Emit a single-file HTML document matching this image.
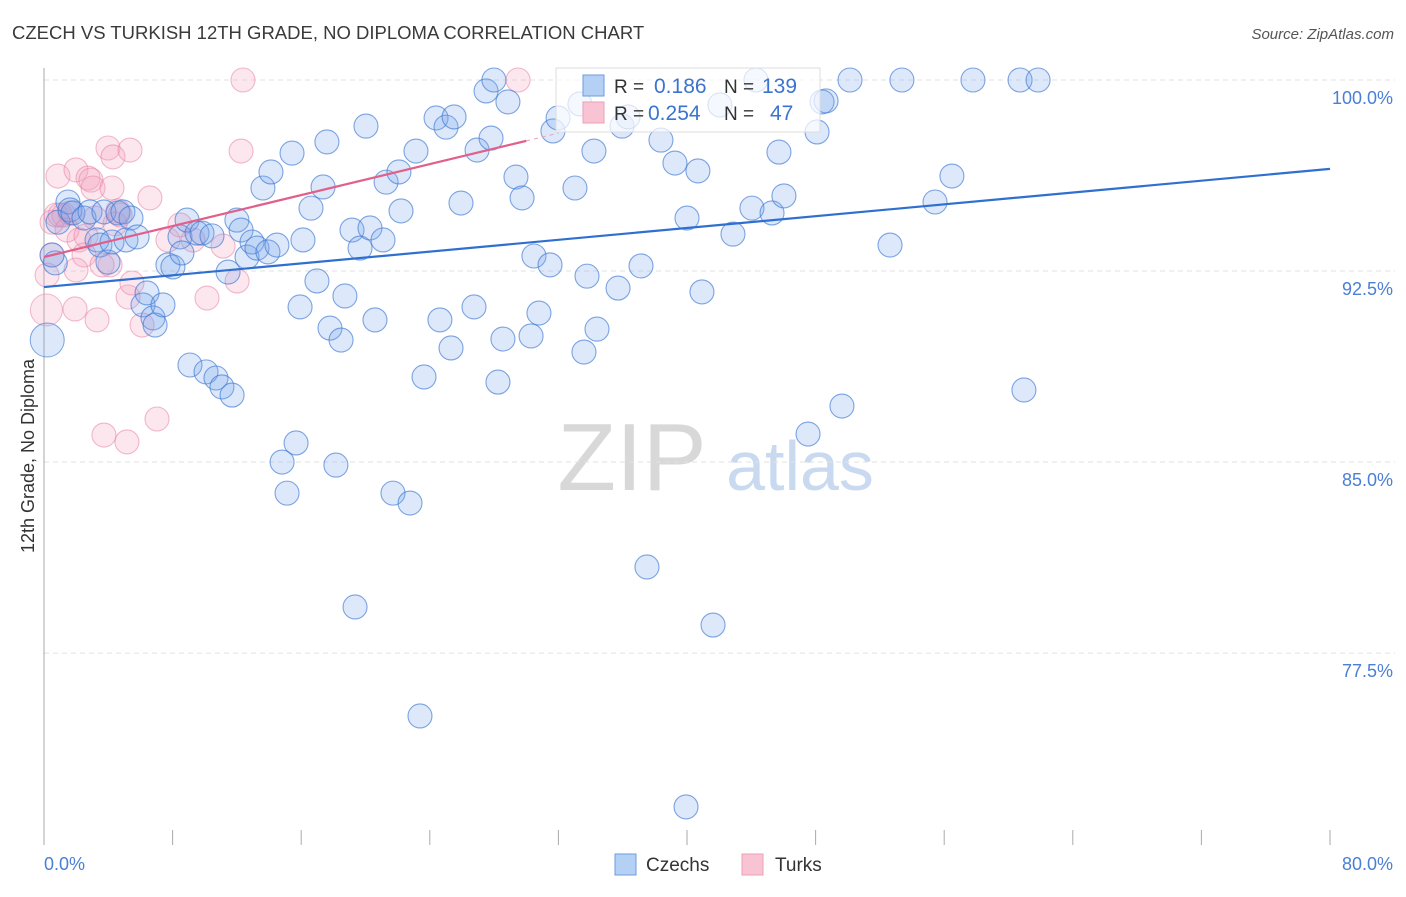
<!DOCTYPE html>
<html><head><meta charset="utf-8"><style>
body{margin:0;background:#fff;font-family:"Liberation Sans",sans-serif;}
svg text{font-family:"Liberation Sans",sans-serif;}
</style></head><body>
<svg id="chart" width="1406" height="892" viewBox="0 0 1406 892" xmlns="http://www.w3.org/2000/svg">
<text x="12" y="39" font-size="18.5" fill="#3a3a3a">CZECH VS TURKISH 12TH GRADE, NO DIPLOMA CORRELATION CHART</text>
<text x="1394" y="39" font-size="15" fill="#555" text-anchor="end" font-style="italic">Source: ZipAtlas.com</text>
<g>
<text x="632" y="490" font-size="96" fill="#d8d8d8" font-family="Liberation Serif" text-anchor="middle">ZIP</text>
<text x="800" y="490" font-size="70" fill="#c8d9f0" text-anchor="middle">atlas</text>
</g>
<g id="grid"></g>
<g id="axes"></g>
<g id="marks"></g>
<text transform="translate(34,456) rotate(-90)" font-size="18" fill="#333" text-anchor="middle">12th Grade, No Diploma</text>
<text x="44" y="870" font-size="18" fill="#4a7fd4">0.0%</text>
<text x="1393" y="870" font-size="18" fill="#4a7fd4" text-anchor="end">80.0%</text>
<g>
<rect x="556" y="68" width="264" height="64" fill="#fff" fill-opacity="0.7" stroke="#ddd"/>
<rect x="583" y="75" width="21" height="21" fill="#b5d0f5" stroke="#6b9be0"/>
<rect x="583" y="102" width="21" height="21" fill="#f8c3d3" stroke="#eba0b8"/>
<text x="614" y="93" font-size="19" fill="#333">R =</text>
<text x="654" y="93" font-size="21" fill="#3a74d0">0.186</text>
<text x="724" y="93" font-size="19" fill="#333">N =</text>
<text x="762" y="93" font-size="21" fill="#3a74d0">139</text>
<text x="614" y="120" font-size="19" fill="#333">R =</text>
<text x="648" y="120" font-size="21" fill="#3a74d0">0.254</text>
<text x="724" y="120" font-size="19" fill="#333">N =</text>
<text x="770" y="120" font-size="21" fill="#3a74d0">47</text>
</g>
<g>
<rect x="615" y="854" width="21" height="21" fill="#b5d0f5" stroke="#6b9be0"/>
<text x="646" y="871" font-size="19" fill="#333">Czechs</text>
<rect x="742" y="854" width="21" height="21" fill="#f8c3d3" stroke="#eba0b8"/>
<text x="775" y="871" font-size="19" fill="#333">Turks</text>
</g>
</svg>
<script>
const czechX=[0.5,0.7,0.87,1.49,1.62,1.8,2.49,2.86,3.3,3.48,3.73,3.98,4.23,4.6,4.91,5.1,5.41,5.79,6.16,6.41,6.78,6.91,7.4,7.71,8.02,8.46,8.58,8.9,9.08,9.52,9.83,10.08,10.45,10.7,11.07,11.45,11.7,12.0,12.26,12.63,12.94,13.25,13.62,13.93,14.12,14.49,14.81,15.12,15.43,15.68,15.93,16.11,16.61,16.98,17.36,17.6,17.79,18.16,18.48,18.72,19.16,19.35,19.66,20.03,20.28,20.59,21.09,21.28,21.71,22.08,22.21,22.77,23.14,23.39,23.64,24.39,24.63,25.01,25.32,25.51,25.94,26.75,26.94,27.5,27.81,27.99,28.24,28.55,28.86,29.36,29.74,30.3,30.48,30.79,31.48,31.66,31.98,33.03,33.34,33.59,33.78,34.21,34.4,35.71,35.96,36.33,37.14,37.51,38.38,39.25,39.94,40.0,40.68,40.93,41.62,42.05,42.86,44.04,44.29,45.29,45.72,46.03,47.53,48.09,48.4,48.65,49.64,50.14,52.63,53.37,55.43,56.48,57.79,60.72,60.96,61.84];
const czechY=[93.13,92.82,94.42,95.21,94.9,94.78,94.58,94.82,93.72,93.52,94.82,92.85,93.64,94.78,94.82,93.72,94.58,93.84,91.17,91.64,90.66,90.38,91.17,92.74,92.66,93.84,93.21,94.5,88.81,93.99,93.99,88.54,93.88,88.3,87.95,92.46,87.63,94.5,94.11,93.05,93.64,93.4,95.76,93.25,96.39,93.52,85.0,83.78,97.13,85.75,91.09,93.72,94.97,92.11,95.8,97.57,90.26,84.88,89.79,91.52,94.11,79.31,93.4,98.19,94.19,90.58,93.72,95.99,83.78,96.39,94.86,83.39,97.21,75.03,88.34,98.51,90.58,98.15,89.48,98.55,95.17,91.09,97.25,99.57,97.72,100,88.14,89.83,99.14,96.19,95.37,89.95,93.09,90.85,92.74,98.0,98.51,95.76,99.06,89.32,92.3,97.21,90.22,91.83,98.19,98.55,92.7,80.88,97.64,96.74,71.46,94.58,96.43,91.68,78.6,99.02,93.95,94.97,100,94.78,97.17,95.45,86.1,97.96,99.14,99.18,87.2,100,93.52,100,95.21,96.23,100,100,87.83,100];
const turkX=[12.38,0.5,0.5,0.75,0.87,1.24,1.62,1.99,2.18,2.49,2.74,2.92,3.05,3.17,3.3,3.73,3.98,4.11,4.23,4.29,4.42,4.6,5.16,5.23,5.35,5.47,6.1,6.59,7.03,7.71,8.46,9.27,10.14,11.14,12.01,12.26,29.49,1.0,1.93,1.43,3.61,4.73,2.61,0.19,1.99];
const turkY=[100,93.13,94.42,94.7,96.23,94.7,94.78,96.47,93.72,93.13,96.15,96.07,95.76,94.58,90.58,86.06,97.33,92.74,95.76,96.98,94.35,94.86,85.79,91.48,97.25,92.03,90.38,95.37,86.69,93.72,94.31,93.72,91.44,93.48,92.11,97.21,100,94.7,91.01,94.11,92.74,94.7,93.88,92.34,92.54];
const yTicks=[100,92.5,85,77.5];
const yTickLabels=["100.0%","92.5%","85.0%","77.5%"];
const xTicks=[0,8,16,24,32,40,48,56,64,72,80];
const czechFit=[91.87,0.058];
const turkFit=[93.05,0.152];

const NS="http://www.w3.org/2000/svg";
const X0=44,X1=1330,Y100=80,PXPER=25.47;
function sx(v){return X0+v*(X1-X0)/80;}
function sy(v){return Y100+(100-v)*PXPER;}
function mk(tag,attrs,parent){const e=document.createElementNS(NS,tag);for(const k in attrs)e.setAttribute(k,attrs[k]);parent.appendChild(e);return e;}
const grid=document.getElementById('grid'),axes=document.getElementById('axes'),marks=document.getElementById('marks');
yTicks.forEach((t,i)=>{
  const l=mk('line',{x1:X0,x2:1395,y1:sy(t),y2:sy(t),stroke:'#e2e2e2','stroke-dasharray':'5,4'},grid);
  
  
  const tx=mk('text',{x:1393,y:sy(t)+24,'font-size':18,fill:'#4a7fd4','text-anchor':'end'},grid);
  tx.textContent=yTickLabels[i];
  
  
});
const ya=mk('line',{x1:X0,x2:X0,y1:68,y2:845,stroke:'#aaa'},axes);


xTicks.forEach(t=>{
  const l=mk('line',{x1:sx(t),x2:sx(t),y1:830,y2:845,stroke:'#aaa'},axes);
  
  
});
const CF='rgba(120,165,235,0.25)',CS='rgba(60,120,210,0.65)',TF='rgba(244,160,188,0.25)',TS='rgba(232,130,165,0.55)';
function dots(xs,ys,fill,stroke,name){
  xs.forEach((x,i)=>{
    const c=mk('circle',{cx:sx(x),cy:sy(ys[i]),r:12,fill:fill,stroke:stroke,'stroke-width':1.1},marks);
    
    
  });
}
dots(turkX,turkY,TF,TS,'turk-point');
dots(czechX,czechY,CF,CS,'czech-point');
const big=mk('circle',{cx:sx(0.15),cy:sy(90.97),r:16,fill:TF,stroke:TS},marks);


const big2=mk('circle',{cx:sx(0.2),cy:sy(89.79),r:17,fill:CF,stroke:CS},marks);


const cl=mk('line',{x1:sx(0),y1:sy(czechFit[0]),x2:sx(80),y2:sy(czechFit[0]+czechFit[1]*80),stroke:'#2f6fd0','stroke-width':2.2},marks);


const tl=mk('line',{x1:sx(0),y1:sy(turkFit[0]),x2:sx(30),y2:sy(turkFit[0]+turkFit[1]*30),stroke:'#e0608a','stroke-width':2.2},marks);


const td=mk('line',{x1:sx(30),y1:sy(turkFit[0]+turkFit[1]*30),x2:sx(32),y2:sy(turkFit[0]+turkFit[1]*32),stroke:'#e8a0b8','stroke-width':1,'stroke-dasharray':'4,4'},marks);


</script>
</body></html>
